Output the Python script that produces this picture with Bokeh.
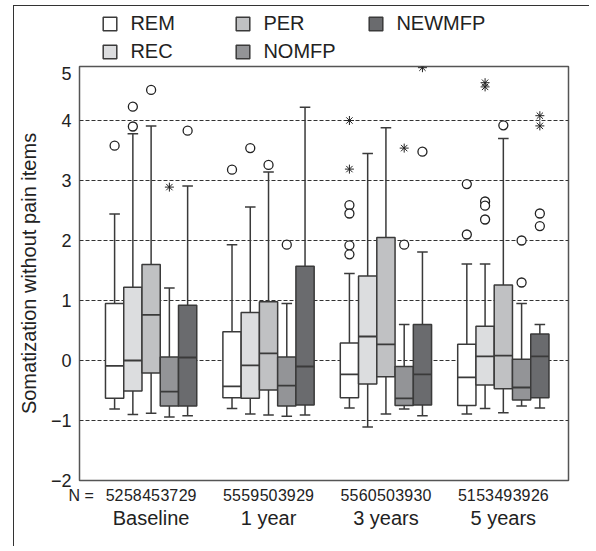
from bokeh.plotting import figure
from bokeh.layouts import column
from bokeh.models import (ColumnDataSource, Range1d, FixedTicker, Legend, LegendItem,
                          LinearAxis)
from bokeh.embed import file_html
from bokeh.resources import INLINE

groups = ["Baseline", "1 year", "3 years", "5 years"]
series = ["REM", "REC", "PER", "NOMFP", "NEWMFP"]
colors = ["#ffffff", "#dcdddf", "#c0c1c3", "#939497", "#6a6b6e"]

# box statistics per series, one value per group (Baseline, 1y, 3y, 5y)
rem_lo = [-0.81, -0.80, -0.79, -0.89]
rem_q1 = [-0.63, -0.62, -0.62, -0.75]
rem_med = [-0.09, -0.43, -0.23, -0.28]
rem_q3 = [0.95, 0.48, 0.29, 0.27]
rem_hi = [2.44, 1.93, 1.45, 1.61]

rec_lo = [-0.90, -0.89, -1.11, -0.80]
rec_q1 = [-0.51, -0.63, -0.39, -0.41]
rec_med = [0.00, -0.08, 0.40, 0.07]
rec_q3 = [1.22, 0.80, 1.41, 0.57]
rec_hi = [3.78, 2.56, 3.45, 1.61]

per_lo = [-0.88, -0.91, -0.89, -0.87]
per_q1 = [-0.21, -0.49, -0.27, -0.47]
per_med = [0.76, 0.12, 0.27, 0.08]
per_q3 = [1.60, 0.98, 2.05, 1.26]
per_hi = [3.91, 3.14, 3.88, 3.70]

nom_lo = [-0.94, -0.93, -0.81, -0.76]
nom_q1 = [-0.76, -0.76, -0.75, -0.66]
nom_med = [-0.52, -0.42, -0.63, -0.45]
nom_q3 = [0.06, 0.06, -0.10, 0.02]
nom_hi = [1.21, 0.95, 0.60, 0.95]

new_lo = [-0.92, -0.91, -0.92, -0.79]
new_q1 = [-0.76, -0.74, -0.74, -0.62]
new_med = [0.05, -0.10, -0.23, 0.07]
new_q3 = [0.92, 1.57, 0.60, 0.44]
new_hi = [2.91, 4.22, 1.81, 0.60]

# outliers (circles) per series, per group
rem_circ = [[3.58], [3.18], [2.59, 2.45, 1.92, 1.77], [2.94, 2.10]]
rec_circ = [[4.23, 3.90], [3.54], [], [2.65, 2.58, 2.35]]
per_circ = [[4.51], [3.26], [], [3.92]]
nom_circ = [[], [1.93], [1.93], [2.00, 1.30]]
new_circ = [[3.83], [], [3.48], [2.45, 2.24]]

# extremes (asterisks) per series, per group
rem_ext = [[], [], [4.00, 3.19], []]
rec_ext = [[], [], [], [4.63, 4.56]]
per_ext = [[], [], [], []]
nom_ext = [[2.89], [], [3.54], []]
new_ext = [[], [], [4.88], [4.08, 3.91]]

# N per series, per group
rem_n = [52, 55, 55, 51]
rec_n = [58, 59, 60, 53]
per_n = [45, 50, 50, 49]
nom_n = [37, 39, 39, 39]
new_n = [29, 29, 30, 26]

stats = [
    (rem_lo, rem_q1, rem_med, rem_q3, rem_hi, rem_circ, rem_ext, rem_n),
    (rec_lo, rec_q1, rec_med, rec_q3, rec_hi, rec_circ, rec_ext, rec_n),
    (per_lo, per_q1, per_med, per_q3, per_hi, per_circ, per_ext, per_n),
    (nom_lo, nom_q1, nom_med, nom_q3, nom_hi, nom_circ, nom_ext, nom_n),
    (new_lo, new_q1, new_med, new_q3, new_hi, new_circ, new_ext, new_n),
]

FONT = "Arial"
TXT = "#222222"
LINE = "#3a3a3a"
BW = 0.1555      # box width in data units
CAP = 0.045      # half cap width

p = figure(width=575, height=483, output_backend="svg", toolbar_location=None,
           x_range=Range1d(0.39, 4.555), y_range=Range1d(-2, 4.9),
           min_border_left=64, min_border_right=21, min_border_top=3, min_border_bottom=66)
p.outline_line_color = "#555555"
p.outline_line_width = 1.5
p.background_fill_color = "white"
p.border_fill_color = "white"

p.xgrid.visible = False
p.ygrid.ticker = FixedTicker(ticks=[-1, 0, 1, 2, 3, 4])
p.ygrid.grid_line_color = "#333333"
p.ygrid.grid_line_dash = "4 2"
p.ygrid.grid_line_width = 1.2

p.yaxis.ticker = FixedTicker(ticks=[-2, -1, 0, 1, 2, 3, 4, 4.78])
p.yaxis.major_label_overrides = {-2: "\u22122", -1: "\u22121", 4.78: "5"}
p.yaxis.axis_label = "Somatization without pain items"
p.yaxis.axis_label_text_font = FONT
p.yaxis.axis_label_text_font_size = "20px"
p.yaxis.axis_label_text_font_style = "normal"
p.yaxis.axis_label_text_color = TXT
p.yaxis.axis_label_standoff = 8
p.yaxis.major_label_text_font = FONT
p.yaxis.major_label_text_font_size = "18px"
p.yaxis.major_label_text_color = TXT
p.yaxis.major_label_standoff = 8
p.yaxis.major_tick_out = 0
p.yaxis.major_tick_in = 0
p.yaxis.minor_tick_out = 0
p.yaxis.minor_tick_in = 0
p.yaxis.axis_line_color = None

n_ticks, n_over = [0.405], {0.405: "N ="}
for si, (lo, q1, med, q3, hi, circ, ext, nn) in enumerate(stats):
    off = (si - 2) * BW
    xs = [round(g + 1 + off, 4) for g in range(len(groups))]
    src = ColumnDataSource(dict(x=xs, lo=lo, q1=q1, med=med, q3=q3, hi=hi,
                                xl=[x - BW / 2 for x in xs], xr=[x + BW / 2 for x in xs],
                                cl=[x - CAP for x in xs], cr=[x + CAP for x in xs]))
    p.segment(x0="x", y0="q3", x1="x", y1="hi", source=src, line_color=LINE, line_width=1.5)
    p.segment(x0="x", y0="lo", x1="x", y1="q1", source=src, line_color=LINE, line_width=1.5)
    p.segment(x0="cl", y0="hi", x1="cr", y1="hi", source=src, line_color=LINE, line_width=1.5)
    p.segment(x0="cl", y0="lo", x1="cr", y1="lo", source=src, line_color=LINE, line_width=1.5)
    p.vbar(x="x", width=BW, bottom="q1", top="q3", source=src,
           fill_color=colors[si], line_color=LINE, line_width=1.5)
    p.segment(x0="xl", y0="med", x1="xr", y1="med", source=src, line_color=LINE, line_width=1.8)

    cx, cy, ex, ey = [], [], [], []
    for g in range(len(groups)):
        for v in circ[g]:
            cx.append(xs[g]); cy.append(v)
        for v in ext[g]:
            ex.append(xs[g]); ey.append(v)
    if cx:
        p.scatter(cx, cy, marker="circle", size=9, fill_color="white",
                  line_color="#222222", line_width=1.3)
    if ex:
        p.scatter(ex, ey, marker="asterisk", size=9, line_color="#222222", line_width=1.0)
    for x, v in zip(xs, nn):
        n_ticks.append(x)
        n_over[x] = str(v)

# N row: the first axis below the frame
p.xaxis.ticker = FixedTicker(ticks=n_ticks)
p.xaxis.major_label_overrides = n_over
p.xaxis.major_label_text_font = FONT
p.xaxis.major_label_text_font_size = "16px"
p.xaxis.major_label_text_color = TXT
p.xaxis.major_label_standoff = 6

# group names: a second axis below
gax = LinearAxis(ticker=FixedTicker(ticks=[1, 2, 3, 4]),
                 major_label_overrides={i + 1: g for i, g in enumerate(groups)},
                 major_label_text_font=FONT, major_label_text_font_size="20px",
                 major_label_text_color=TXT, major_label_standoff=0)
p.add_layout(gax, "below")
for ax in (p.xaxis[0], gax):
    ax.major_tick_out = 0
    ax.major_tick_in = 0
    ax.minor_tick_out = 0
    ax.minor_tick_in = 0
    ax.axis_line_color = None

# legend strip above the plot (its frame is aligned with the main frame)
lf = figure(width=575, height=57, output_backend="svg", toolbar_location=None,
            x_range=Range1d(0, 1), y_range=Range1d(0, 1),
            x_axis_location=None, y_axis_location=None,
            min_border=0, min_border_left=0, min_border_right=0,
            min_border_top=0, min_border_bottom=0)
lf.outline_line_color = None
lf.xgrid.visible = False
lf.ygrid.visible = False
lrs = {}
nan = float("nan")
for s, c in zip(series, colors):
    # swatch source only: a bar with no drawable position
    lrs[s] = lf.vbar(x=[nan], bottom=[nan], top=[nan], width=0.05,
                     fill_color=c, line_color=LINE, line_width=1.5)
order = ["REM", "PER", "NEWMFP", "REC", "NOMFP"]
lg = Legend(items=[LegendItem(label=s, renderers=[lrs[s]]) for s in order],
            location=(22.4, 0), orientation="horizontal", ncols=3,
            glyph_width=17, glyph_height=17, label_height=17, label_width=99,
            label_standoff=12, spacing=5, padding=0, margin=0,
            border_line_color=None, background_fill_alpha=0,
            label_text_font=FONT, label_text_font_size="20px", label_text_color=TXT)
lf.add_layout(lg, "center")

layout = column(lf, p, spacing=0, margin=(5, 0, 0, 13),
                styles={"border-top": "1.5px solid #333", "border-left": "1.5px solid #333"})

open("out.html", "w").write(file_html(layout, INLINE))
